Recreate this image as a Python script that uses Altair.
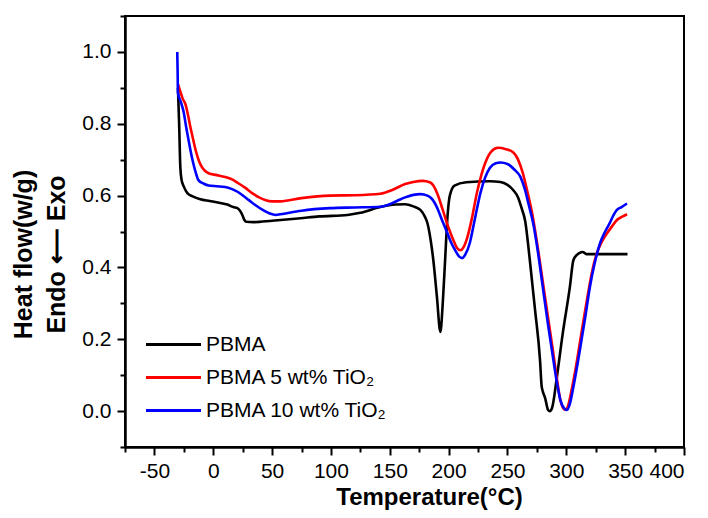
import altair as alt
import pandas as pd

SERIES = ["PBMA", "PBMA 5 wt% TiO₂", "PBMA 10 wt% TiO₂"]
COLORS = ["#000000", "#ff0000", "#0000ff"]

pbma_t = [-30, -29, -28, -27, -25, -22, -17, -11, -3, 5, 12, 17, 20.5, 24.7, 26.5, 28, 34, 50, 74, 90,
          114, 125, 142, 155, 163, 170, 176, 180, 182, 185, 187, 190, 193, 195, 197, 199, 201, 205,
          215, 235, 244, 250, 255, 259, 262, 265, 269, 273.5, 277.7, 279, 280, 282, 284.5, 286, 288,
          292, 297, 303, 306, 309, 311, 314, 317, 330, 352]
pbma_y = [0.90, 0.80, 0.68, 0.645, 0.625, 0.607, 0.597, 0.59, 0.585, 0.580, 0.575, 0.568, 0.565, 0.546,
          0.532, 0.527, 0.526, 0.530, 0.537, 0.542, 0.546, 0.552, 0.568, 0.575, 0.576, 0.57, 0.56, 0.54,
          0.523, 0.47, 0.42, 0.32, 0.22, 0.30, 0.42, 0.54, 0.60, 0.628, 0.637, 0.640, 0.638, 0.630,
          0.615, 0.595, 0.565, 0.53, 0.42, 0.28, 0.14, 0.07, 0.055, 0.036, 0.003, 0.0, 0.01, 0.095,
          0.217, 0.345, 0.42, 0.435, 0.44, 0.443, 0.437, 0.437, 0.437]

ti5_t = [-30, -28, -26, -23.7, -21.5, -19.4, -17, -15, -12, -9, -4, 3, 10, 16, 21, 27, 33, 39, 44, 50,
         57, 75, 99, 120, 142, 153, 163, 170, 178, 184, 187, 191, 195, 200, 204, 207, 210, 213, 216,
         220, 224, 228, 231, 236, 242, 248, 255, 259, 263, 267, 271, 276, 280, 284.5, 289, 292, 295,
         297, 299, 301, 305, 308, 312, 315, 318.5, 322, 326, 330, 334.6, 339, 343, 348, 351.6]
ti5_y = [0.91, 0.89, 0.87, 0.855, 0.825, 0.79, 0.755, 0.727, 0.695, 0.676, 0.662, 0.657, 0.652, 0.645,
         0.635, 0.622, 0.607, 0.595, 0.588, 0.584, 0.584, 0.593, 0.600, 0.601, 0.605, 0.617, 0.632,
         0.638, 0.641, 0.637, 0.628, 0.60, 0.56, 0.51, 0.476, 0.455, 0.448, 0.458, 0.485, 0.54, 0.607,
         0.66, 0.69, 0.722, 0.733, 0.73, 0.72, 0.70, 0.663, 0.61, 0.55, 0.45, 0.36, 0.26, 0.16, 0.09,
         0.03, 0.01, 0.003, 0.01, 0.067, 0.12, 0.2, 0.26, 0.328, 0.39, 0.44, 0.47, 0.495, 0.515, 0.532,
         0.542, 0.548]

ti10_t = [-30.6, -30.3, -30, -27.5, -25, -23, -21, -19, -17, -14.7, -12.6, -8, -4, 3, 10, 16, 21, 26,
          30, 36, 42, 48, 53, 57, 75, 99, 120, 142, 150, 156, 163, 170, 176, 182, 186, 190, 194, 199,
          202, 205.5, 209, 211.5, 214, 218, 222, 227, 231, 235, 240, 244, 250, 256, 261, 265, 268,
          272, 276, 280, 284.5, 289, 292, 295, 298, 300.6, 303, 306, 310, 313, 316.5, 320, 324, 328.7,
          333, 337, 340, 343, 347, 351.6]
ti10_y = [1.0, 0.95, 0.886, 0.86, 0.83, 0.79, 0.755, 0.72, 0.69, 0.662, 0.643, 0.633, 0.628, 0.626,
          0.624, 0.618, 0.61, 0.598, 0.588, 0.573, 0.56, 0.55, 0.546, 0.548, 0.558, 0.565, 0.567, 0.569,
          0.576, 0.585, 0.595, 0.602, 0.604, 0.60, 0.59, 0.568, 0.535, 0.495, 0.47, 0.448, 0.43, 0.426,
          0.435, 0.468, 0.53, 0.607, 0.65, 0.677, 0.69, 0.692, 0.688, 0.672, 0.652, 0.615, 0.575, 0.52,
          0.44, 0.345, 0.24, 0.142, 0.08, 0.03, 0.008, 0.003, 0.02, 0.067, 0.14, 0.2, 0.27, 0.345, 0.41,
          0.468, 0.50, 0.524, 0.545, 0.56, 0.568, 0.578]

X_MAJOR = list(range(-50, 401, 50))
X_MINOR = list(range(-75, 376, 50))
Y_MAJOR = [round(0.2 * i, 1) for i in range(6)]
Y_MINOR = [round(-0.1 + 0.2 * i, 1) for i in range(7)]

rows = []
for name, ts, ys in zip(SERIES, [pbma_t, ti5_t, ti10_t], [pbma_y, ti5_y, ti10_y]):
    for t, v in zip(ts, ys):
        rows.append({"series": name, "T": t, "hf": v})
df = pd.DataFrame(rows)

FONT = "Liberation Sans, Arial, sans-serif"
XS = alt.Scale(domain=[-75, 400], nice=False, zero=False)
YS = alt.Scale(domain=[-0.1, 1.1], nice=False, zero=False)

x_major = alt.Axis(
    orient="bottom", values=X_MAJOR, title="Temperature(°C)",
    labelExpr="'' + datum.value", tickSize=8, labelPadding=5,
    titleX=304, titlePadding=4, titleFontSize=24, grid=False,
)
y_major = alt.Axis(
    orient="left", values=Y_MAJOR, title=["Heat flow(w/g)", "Endo ⟵ Exo"],
    format=".1f", tickSize=8, labelPadding=6,
    titleY=238, titlePadding=12, titleLineHeight=33, grid=False,
)
x_minor = alt.Axis(orient="bottom", values=X_MINOR, labels=False, title=None, tickSize=5, grid=False)
y_minor = alt.Axis(orient="left", values=Y_MINOR, labels=False, title=None, tickSize=5, grid=False)

legend = alt.Legend(
    title=None, orient="none", legendX=36, legendY=316, padding=0,
    symbolType="M-2.5,0H2.5", symbolSize=484, symbolStrokeWidth=3,
    labelOffset=20, rowPadding=10, labelLimit=500,
    labelFont=FONT, labelFontSize=21, labelColor="#000000",
)
color = alt.Color("series:N", scale=alt.Scale(domain=SERIES, range=COLORS), legend=legend)


def layer_for(name, xa, ya):
    return alt.Chart(df).transform_filter(alt.datum.series == name).mark_line(
        strokeWidth=2.6, interpolate="monotone"
    ).encode(
        x=alt.X("T:Q", scale=XS, axis=xa),
        y=alt.Y("hf:Q", scale=YS, axis=ya),
        color=color,
    )


chart = alt.layer(
    layer_for(SERIES[0], x_minor, y_minor),
    layer_for(SERIES[1], x_major, y_major),
    layer_for(SERIES[2], None, None),
).resolve_axis(x="independent", y="independent").properties(
    width=559,
    height=431,
    autosize=alt.AutoSizeParams(type="none"),
    padding={"left": 117, "top": 8, "right": 16, "bottom": 63},
).configure_view(
    stroke="#000000", strokeWidth=2
).configure_axis(
    domainColor="#000000",
    domainWidth=2,
    tickColor="#000000",
    tickWidth=2,
    labelFont=FONT,
    labelFontSize=21,
    labelColor="#000000",
    titleFont=FONT,
    titleFontSize=25,
    titleFontWeight="bold",
    titleColor="#000000",
)

chart.save("out.html", embed_options={"renderer": "svg", "actions": False})
